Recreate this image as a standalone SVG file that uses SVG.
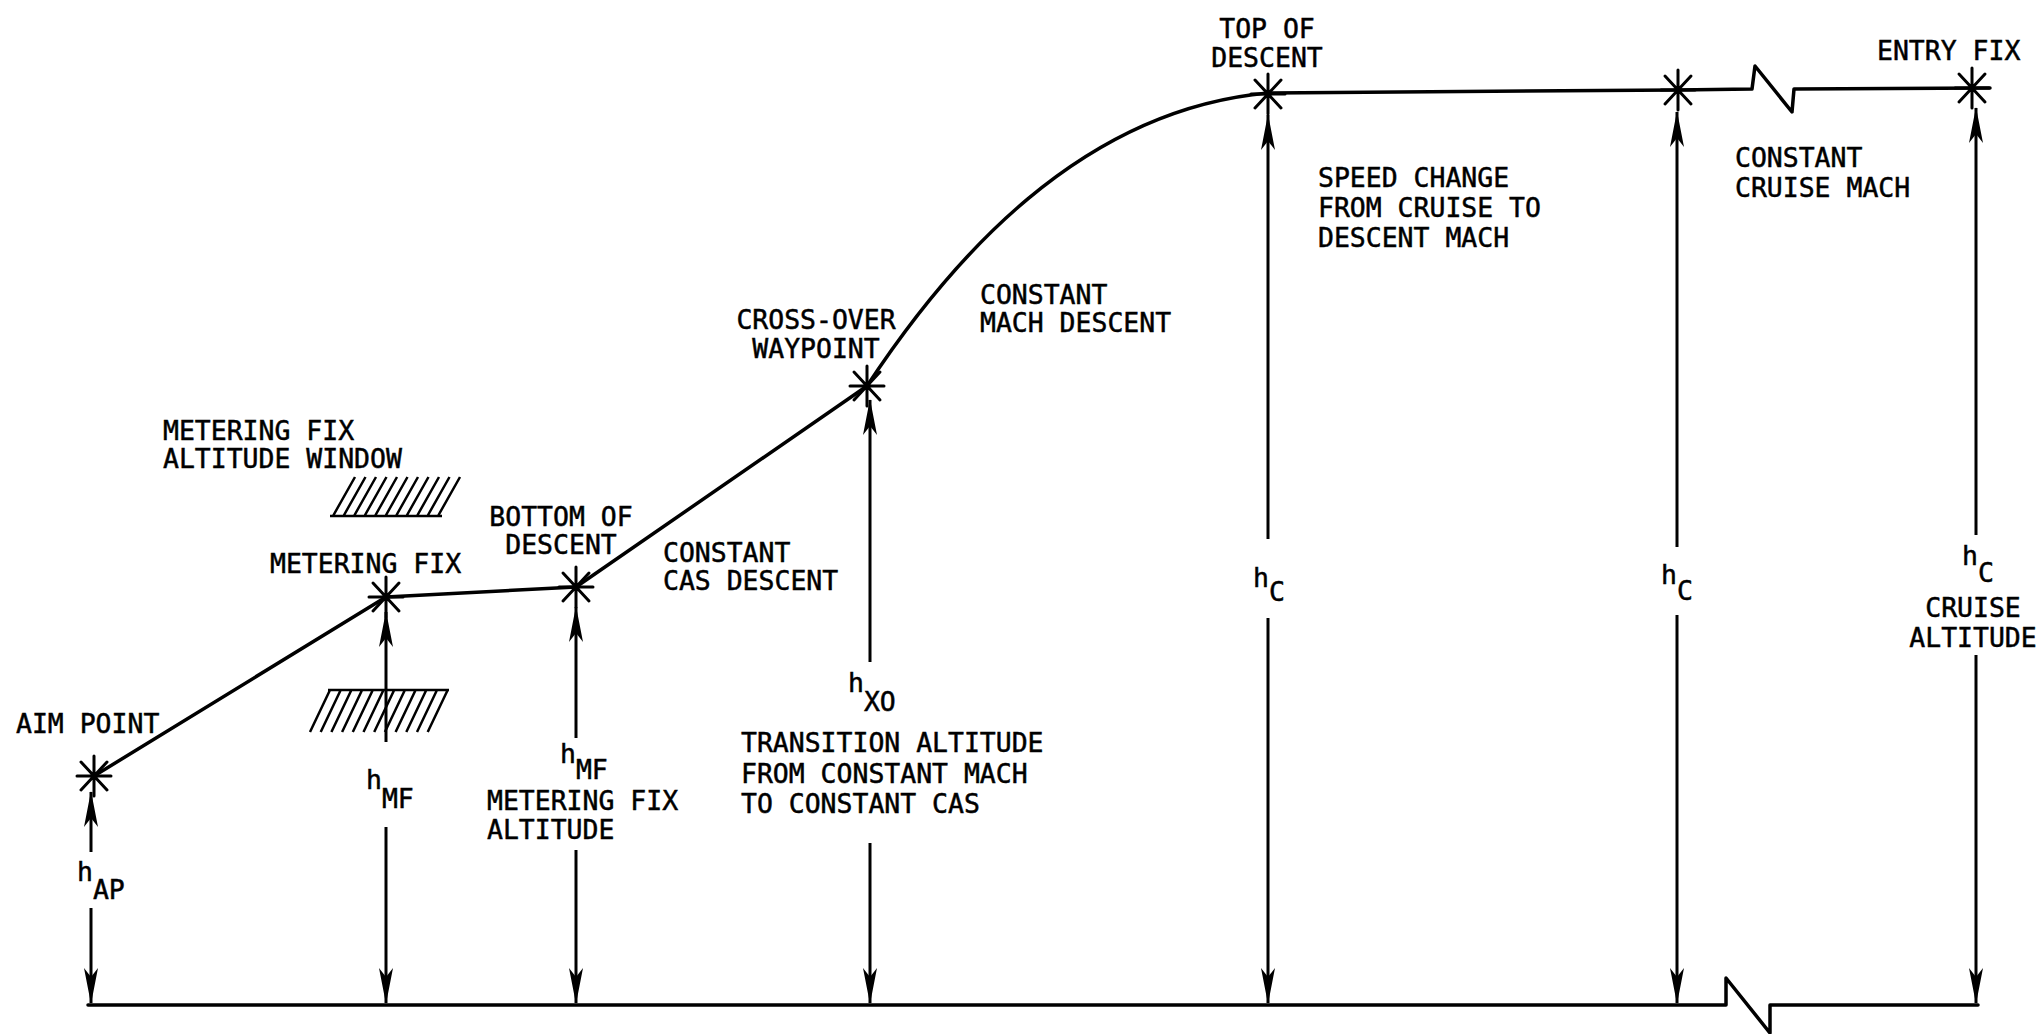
<svg xmlns="http://www.w3.org/2000/svg" width="2039" height="1034" viewBox="0 0 2039 1034">
<defs>
<style>
text{font-family:"DejaVu Sans Mono","Liberation Mono",monospace;font-size:27px;fill:#000;stroke:#000;stroke-width:0.5}
.m{text-anchor:middle}
.ln{stroke:#000;stroke-width:3.5;fill:none;stroke-linecap:round;stroke-linejoin:round}
.v{stroke:#000;stroke-width:3;fill:none}
.st{stroke:#000;stroke-width:3;fill:none;stroke-linecap:round}
.h{stroke:#000;stroke-width:2.5;fill:none}
</style>
<marker id="arr" viewBox="0 0 36 14" refX="35" refY="7" markerWidth="36" markerHeight="14" orient="auto" markerUnits="userSpaceOnUse">
<path d="M36,7 L0,0 L9,7 L0,14 Z" fill="#000"/>
</marker>
<path id="star" d="M0,-20 V20 M-17,0 H17 M-13,-14 L13,14 M-13,14 L13,-14"/>
</defs>
<rect width="2039" height="1034" fill="#fff"/>

<g id="connectors">
<path class="ln" d="M94,776 L386,597 L576,587 L867,386"/>
<path class="ln" d="M867,386 C950,260 1080,110 1268,93"/>
<path class="ln" d="M1268,93 L1677,90 L1752,89 L1755,66 L1792,112 L1794,89 L1990,88"/>
<path class="ln" d="M88,1005 L1726,1005 L1726,978 L1770,1033 L1770,1005 L1978,1005"/>
<g class="v" marker-end="url(#arr)">
<line x1="91" y1="852" x2="91" y2="792"/>
<line x1="91" y1="908" x2="91" y2="1003"/>
<line x1="386" y1="742" x2="386" y2="612"/>
<line x1="386" y1="827" x2="386" y2="1003"/>
<line x1="576" y1="738" x2="576" y2="607"/>
<line x1="576" y1="850" x2="576" y2="1003"/>
<line x1="870" y1="662" x2="870" y2="400"/>
<line x1="870" y1="843" x2="870" y2="1003"/>
<line x1="1268" y1="539" x2="1268" y2="115"/>
<line x1="1268" y1="618" x2="1268" y2="1003"/>
<line x1="1677" y1="547" x2="1677" y2="112"/>
<line x1="1677" y1="615" x2="1677" y2="1003"/>
<line x1="1976" y1="535" x2="1976" y2="108"/>
<line x1="1976" y1="655" x2="1976" y2="1003"/>
</g>
</g>

<g id="aim-point">
<use href="#star" class="st" x="94" y="776"/>
<text transform="translate(16,733) scale(0.98,1)">AIM POINT</text>
<text transform="translate(77,881) scale(0.98,1)">h<tspan dy="18">AP</tspan></text>
</g>

<g id="metering-window">
<text transform="translate(163,440) scale(0.98,1)">METERING FIX<tspan x="0" dy="28">ALTITUDE WINDOW</tspan></text>
<path class="h" d="M330,516 H442 M333,516 l22,-39 M343.5,516 l22,-39 M354,516 l22,-39 M364.5,516 l22,-39 M375,516 l22,-39 M385.5,516 l22,-39 M396,516 l22,-39 M406.5,516 l22,-39 M417,516 l22,-39 M427.5,516 l22,-39 M438,516 l22,-39"/>
<path class="h" d="M328,690 H449 M330,690 l-20,42 M340.7,690 l-20,42 M351.4,690 l-20,42 M362.1,690 l-20,42 M372.8,690 l-20,42 M383.5,690 l-20,42 M394.2,690 l-20,42 M404.9,690 l-20,42 M415.6,690 l-20,42 M426.3,690 l-20,42 M437,690 l-20,42 M447.7,690 l-20,42"/>
</g>

<g id="metering-fix">
<use href="#star" class="st" x="386" y="597"/>
<text transform="translate(270,573) scale(0.98,1)">METERING FIX</text>
<text transform="translate(366,789) scale(0.98,1)">h<tspan dy="19">MF</tspan></text>
</g>

<g id="bottom-of-descent">
<use href="#star" class="st" x="576" y="587"/>
<text class="m" transform="translate(561,526) scale(0.98,1)">BOTTOM OF<tspan x="0" dy="28">DESCENT</tspan></text>
<text transform="translate(560,763) scale(0.98,1)">h<tspan dy="16">MF</tspan></text>
<text transform="translate(487,810) scale(0.98,1)">METERING FIX<tspan x="0" dy="29">ALTITUDE</tspan></text>
</g>

<g id="cas-descent">
<text transform="translate(663,562) scale(0.98,1)">CONSTANT<tspan x="0" dy="28">CAS DESCENT</tspan></text>
</g>

<g id="cross-over">
<use href="#star" class="st" x="867" y="386"/>
<text class="m" transform="translate(816,329) scale(0.98,1)">CROSS-OVER<tspan x="0" dy="29">WAYPOINT</tspan></text>
<text transform="translate(848,692) scale(0.98,1)">h<tspan dy="19">XO</tspan></text>
<text transform="translate(741,752) scale(0.98,1)">TRANSITION ALTITUDE<tspan x="0" dy="31">FROM CONSTANT MACH</tspan><tspan x="0" dy="30">TO CONSTANT CAS</tspan></text>
</g>

<g id="mach-descent">
<text transform="translate(980,304) scale(0.98,1)">CONSTANT<tspan x="0" dy="28">MACH DESCENT</tspan></text>
</g>

<g id="top-of-descent">
<use href="#star" class="st" x="1268" y="94"/>
<text class="m" transform="translate(1267,38) scale(0.98,1)">TOP OF<tspan x="0" dy="29">DESCENT</tspan></text>
<text transform="translate(1253,587) scale(0.98,1)">h<tspan dy="14">C</tspan></text>
</g>

<g id="speed-change">
<text transform="translate(1318,187) scale(0.98,1)">SPEED CHANGE<tspan x="0" dy="30">FROM CRUISE TO</tspan><tspan x="0" dy="30">DESCENT MACH</tspan></text>
</g>

<g id="speed-change-end">
<use href="#star" class="st" x="1678" y="90"/>
<text transform="translate(1661,584) scale(0.98,1)">h<tspan dy="16">C</tspan></text>
</g>

<g id="cruise-mach">
<text transform="translate(1735,167) scale(0.98,1)">CONSTANT<tspan x="0" dy="30">CRUISE MACH</tspan></text>
</g>

<g id="entry-fix">
<use href="#star" class="st" x="1972" y="88"/>
<text transform="translate(1877,60) scale(0.98,1)">ENTRY FIX</text>
<text transform="translate(1962,565) scale(0.98,1)">h<tspan dy="17">C</tspan></text>
<text class="m" transform="translate(1973,617) scale(0.98,1)">CRUISE<tspan x="0" dy="30">ALTITUDE</tspan></text>
</g>
</svg>
